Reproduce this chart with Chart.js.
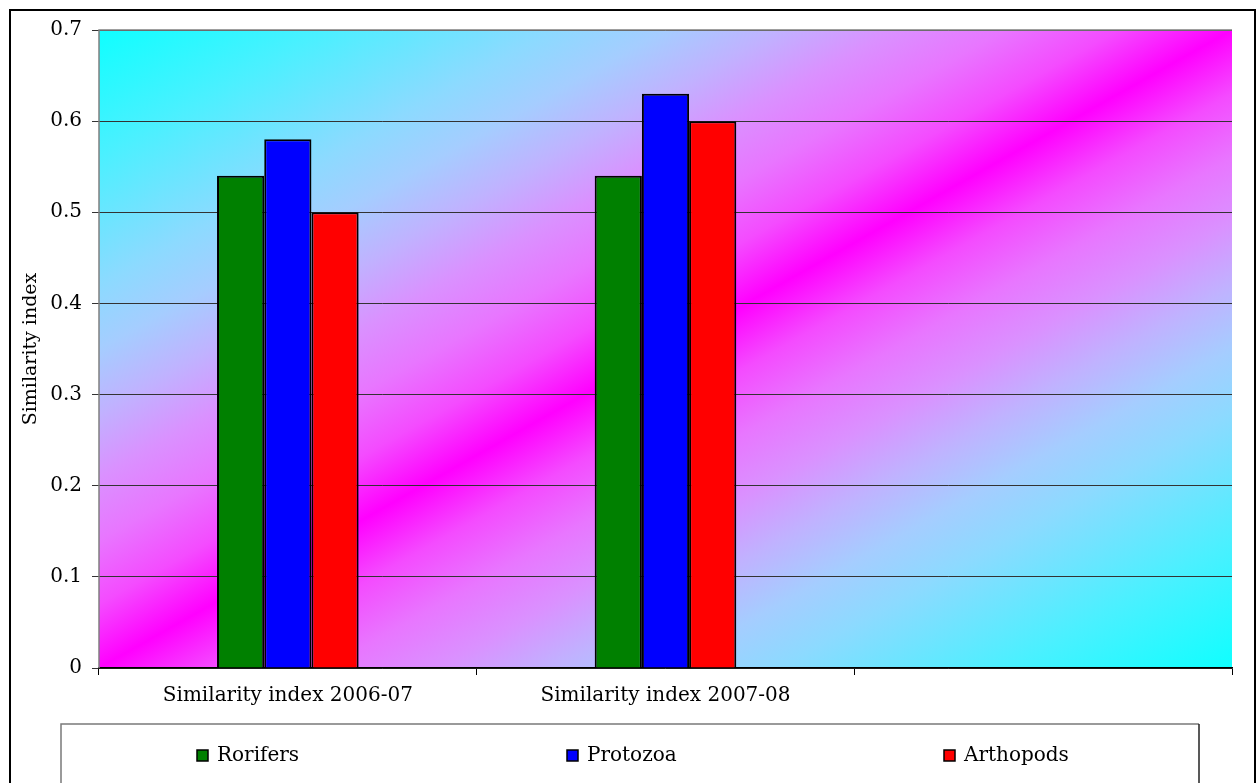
<!DOCTYPE html>
<html>
<head>
<meta charset="utf-8">
<script src="https://cdn.jsdelivr.net/npm/chart.js@4/dist/chart.umd.min.js"></script>
<style>
html,body{margin:0;padding:0;background:#fff;}
#wrap{width:1260px;height:783px;position:relative;}
</style>
</head>
<body>
<div id="wrap"><canvas id="c" width="1260" height="783"></canvas></div>
<script>
const categories = ["Similarity index 2006-07", "Similarity index 2007-08", ""];
const rorifers = [0.54, 0.54, null];
const protozoa = [0.58, 0.63, null];
const arthopods = [0.50, 0.60, null];
const seriesNames = ["Rorifers", "Protozoa", "Arthopods"];
const seriesColors = ["#008000", "#0000FF", "#FF0000"];
const yTicks = [0, 0.1, 0.2, 0.3, 0.4, 0.5, 0.6, 0.7];
const legendX = [197, 567, 944];

const FONT = "'DejaVu Serif', serif";

const gradStops = [
  [0.00, "rgb(15,255,255)"],
  [0.10, "rgb(75,240,255)"],
  [0.20, "rgb(140,218,255)"],
  [0.25, "rgb(165,205,255)"],
  [0.30, "rgb(192,178,255)"],
  [0.35, "rgb(218,145,255)"],
  [0.40, "rgb(232,118,255)"],
  [0.45, "rgb(244,75,255)"],
  [0.50, "rgb(255,0,255)"]
];

const bgPlugin = {
  id: 'bg',
  beforeDraw(chart) {
    const ctx = chart.ctx, a = chart.chartArea;
    const W = a.right - a.left, H = a.bottom - a.top;
    const cx = a.left + W / 2, cy = a.top + H / 2;
    const nx = H, ny = W;
    const s = (W * H) / (nx * nx + ny * ny);
    const g = ctx.createLinearGradient(cx - s * nx, cy - s * ny, cx + s * nx, cy + s * ny);
    gradStops.forEach(([t, c]) => { g.addColorStop(t, c); g.addColorStop(1 - t, c); });
    ctx.save();
    ctx.fillStyle = g;
    ctx.fillRect(a.left, a.top, W, H);
    ctx.restore();
  },
  afterDraw(chart) {
    const ctx = chart.ctx, a = chart.chartArea;
    ctx.save();
    ctx.strokeStyle = "#808080";
    ctx.lineWidth = 1.5;
    ctx.beginPath();
    ctx.moveTo(a.left, a.bottom); ctx.lineTo(a.left, a.top); ctx.lineTo(a.right, a.top);
    ctx.stroke();
    ctx.strokeStyle = "#000";
    ctx.lineWidth = 2;
    ctx.strokeRect(10, 10, 1245, 800);
    ctx.strokeStyle = "#7a7a7a";
    ctx.lineWidth = 1.5;
    ctx.beginPath();
    ctx.moveTo(61, 800); ctx.lineTo(61, 724); ctx.lineTo(1199, 724);
    ctx.stroke();
    ctx.strokeStyle = "#222";
    ctx.beginPath();
    ctx.moveTo(1199, 724); ctx.lineTo(1199, 800);
    ctx.stroke();
    ctx.font = "20px " + FONT;
    ctx.textBaseline = "middle";
    ctx.textAlign = "left";
    chart.data.datasets.forEach((ds, i) => {
      const x = legendX[i];
      ctx.fillStyle = ds.backgroundColor;
      ctx.fillRect(x, 750, 11, 11);
      ctx.strokeStyle = "#000";
      ctx.lineWidth = 1.5;
      ctx.strokeRect(x, 750, 11, 11);
      ctx.fillStyle = "#000";
      ctx.fillText(ds.label, x + 20, 756);
    });
    ctx.restore();
  }
};

const mk = (i, data) => ({
  label: seriesNames[i],
  data: data,
  backgroundColor: seriesColors[i],
  borderColor: "#000",
  borderWidth: 2,
  borderSkipped: 'bottom',
  categoryPercentage: 0.375,
  barPercentage: 1.0
});

new Chart(document.getElementById('c'), {
  type: 'bar',
  data: {
    labels: categories,
    datasets: [mk(0, rorifers), mk(1, protozoa), mk(2, arthopods)]
  },
  options: {
    responsive: false,
    animation: false,
    devicePixelRatio: 1,
    layout: { padding: { left: 14, right: 28, top: 30, bottom: 70 } },
    plugins: { legend: { display: false }, tooltip: { enabled: false } },
    scales: {
      x: {
        grid: { display: true, drawOnChartArea: false, color: "#000", tickLength: 7, offset: true },
        border: { color: "#000", width: 1.5 },
        ticks: { color: "#000", font: { family: FONT, size: 20 }, padding: 9, maxRotation: 0 },
        afterFit(s) { s.height = 45; }
      },
      y: {
        min: 0, max: 0.7,
        afterBuildTicks(s) { s.ticks = yTicks.map(v => ({ value: v })); },
        grid: { color: "#333", lineWidth: 1, tickLength: 7, drawTicks: true },
        border: { display: false },
        ticks: { color: "#000", font: { family: FONT, size: 20 }, padding: 10,
                 callback: v => String(v) },
        title: { display: true, text: "Similarity index", color: "#000",
                 font: { family: FONT, size: 19 }, padding: { top: 6, bottom: 0 } },
        afterFit(s) { s.width = 85; }
      }
    }
  },
  plugins: [bgPlugin]
});
</script>
</body>
</html>
